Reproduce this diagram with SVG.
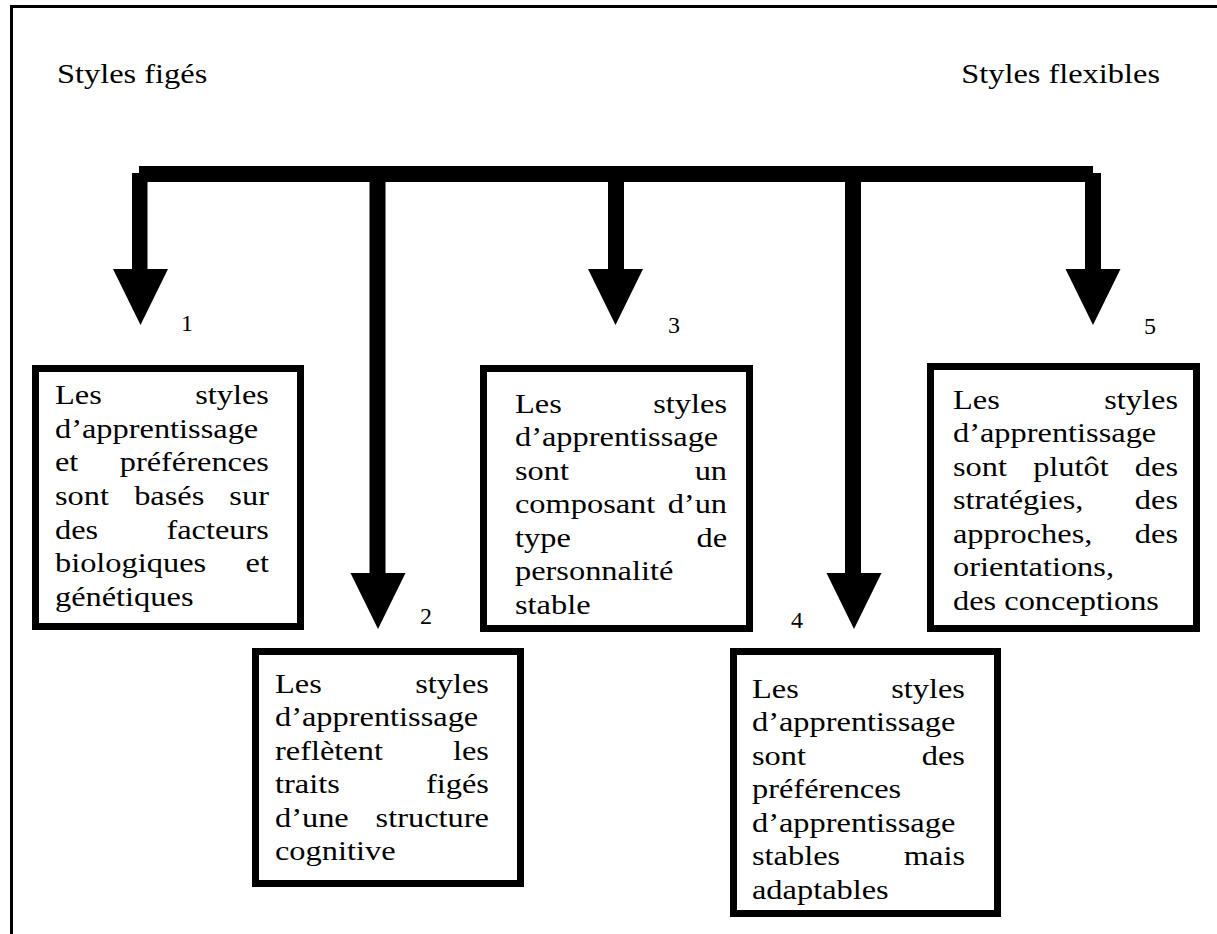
<svg xmlns="http://www.w3.org/2000/svg" xmlns:xlink="http://www.w3.org/1999/xlink" width="1217" height="934" viewBox="0 0 1217 934">
<style>
.t{font-family:"Liberation Serif","Times New Roman",serif;font-size:27px;fill:#000}
.n{font-family:"Liberation Serif","Times New Roman",serif;font-size:24px;fill:#000;text-anchor:middle}
.e{text-anchor:end}
.m{text-anchor:middle}
.box{fill:#fff;stroke:#000;stroke-width:7}
.frame{fill:none;stroke:#000;stroke-width:3}
.c{fill:#000}
</style>
<defs>
<polygon id="head" points="-27.5,0 27.5,0 0,56"/>
</defs>
<rect width="1217" height="934" fill="#fff"/>
<path class="frame" d="M11.5,934 V6.5 H1217"/>
<text class="t" x="57" y="83" transform="matrix(1.2,0,0,1,-11.4,0)">Styles figés</text>
<text class="t e" x="1160" y="83" transform="matrix(1.2,0,0,1,-232,0)">Styles flexibles</text>

<g id="connectors">
<rect class="c" x="139" y="166" width="954" height="16"/>
<rect class="c" x="132" y="173" width="15.5" height="98"/>
<rect class="c" x="1085" y="173" width="16" height="98"/>
<rect class="c" x="369.5" y="180" width="16" height="395"/>
<rect class="c" x="608" y="180" width="16" height="91"/>
<rect class="c" x="845" y="180" width="16" height="395"/>
<use xlink:href="#head" class="c" x="140.5" y="269"/>
<use xlink:href="#head" class="c" x="378" y="573"/>
<use xlink:href="#head" class="c" x="615.5" y="269"/>
<use xlink:href="#head" class="c" x="854" y="573"/>
<use xlink:href="#head" class="c" x="1093" y="269"/>
</g>

<g id="labels">
<text class="n" x="187" y="331">1</text>
<text class="n" x="426" y="624">2</text>
<text class="n" x="674" y="333">3</text>
<text class="n" x="797" y="628">4</text>
<text class="n" x="1150" y="334">5</text>
</g>

<g id="node1">
<rect class="box" x="35.5" y="368.5" width="265" height="258"/>
<g transform="matrix(1.2,0,0,1,-11,0)">
<text class="t" x="55" y="404">Les</text><text class="t e" x="233.3" y="404">styles</text>
<text class="t" x="55" y="437.7">d’apprentissage</text>
<text class="t" x="55" y="471.4">et</text><text class="t e" x="233.3" y="471.4">préférences</text>
<text class="t" x="55" y="505.1">sont</text><text class="t m" x="150.2" y="505.1">basés</text><text class="t e" x="233.3" y="505.1">sur</text>
<text class="t" x="55" y="538.8">des</text><text class="t e" x="233.3" y="538.8">facteurs</text>
<text class="t" x="55" y="572.5">biologiques</text><text class="t e" x="233.3" y="572.5">et</text>
<text class="t" x="55" y="606.2">génétiques</text>
</g>
</g>

<g id="node2">
<rect class="box" x="255.5" y="651.5" width="265" height="232"/>
<g transform="matrix(1.2,0,0,1,-55,0)">
<text class="t" x="275" y="693">Les</text><text class="t e" x="453.3" y="693">styles</text>
<text class="t" x="275" y="726.5">d’apprentissage</text>
<text class="t" x="275" y="760">reflètent</text><text class="t e" x="453.3" y="760">les</text>
<text class="t" x="275" y="793.5">traits</text><text class="t e" x="453.3" y="793.5">figés</text>
<text class="t" x="275" y="827">d’une</text><text class="t e" x="453.3" y="827">structure</text>
<text class="t" x="275" y="860.5">cognitive</text>
</g>
</g>

<g id="node3">
<rect class="box" x="483.5" y="368.5" width="266" height="260"/>
<g transform="matrix(1.2,0,0,1,-103,0)">
<text class="t" x="515" y="413">Les</text><text class="t e" x="691.7" y="413">styles</text>
<text class="t" x="515" y="446.5">d’apprentissage</text>
<text class="t" x="515" y="480">sont</text><text class="t e" x="691.7" y="480">un</text>
<text class="t" x="515" y="513.5">composant</text><text class="t e" x="691.7" y="513.5">d’un</text>
<text class="t" x="515" y="547">type</text><text class="t e" x="691.7" y="547">de</text>
<text class="t" x="515" y="580.5">personnalité</text>
<text class="t" x="515" y="614">stable</text>
</g>
</g>

<g id="node4">
<rect class="box" x="733.5" y="651.5" width="264" height="262"/>
<g transform="matrix(1.2,0,0,1,-150.4,0)">
<text class="t" x="752" y="698">Les</text><text class="t e" x="929.5" y="698">styles</text>
<text class="t" x="752" y="731.5">d’apprentissage</text>
<text class="t" x="752" y="765">sont</text><text class="t e" x="929.5" y="765">des</text>
<text class="t" x="752" y="798.5">préférences</text>
<text class="t" x="752" y="832">d’apprentissage</text>
<text class="t" x="752" y="865.5">stables</text><text class="t e" x="929.5" y="865.5">mais</text>
<text class="t" x="752" y="899">adaptables</text>
</g>
</g>

<g id="node5">
<rect class="box" x="930.5" y="366.5" width="266" height="262"/>
<g transform="matrix(1.2,0,0,1,-190.6,0)">
<text class="t" x="953" y="409">Les</text><text class="t e" x="1140.5" y="409">styles</text>
<text class="t" x="953" y="442.5">d’apprentissage</text>
<text class="t" x="953" y="476">sont</text><text class="t m" x="1051.3" y="476">plutôt</text><text class="t e" x="1140.5" y="476">des</text>
<text class="t" x="953" y="509.5">stratégies,</text><text class="t e" x="1140.5" y="509.5">des</text>
<text class="t" x="953" y="543">approches,</text><text class="t e" x="1140.5" y="543">des</text>
<text class="t" x="953" y="576.5">orientations,</text>
<text class="t" x="953" y="610">des conceptions</text>
</g>
</g>
</svg>
